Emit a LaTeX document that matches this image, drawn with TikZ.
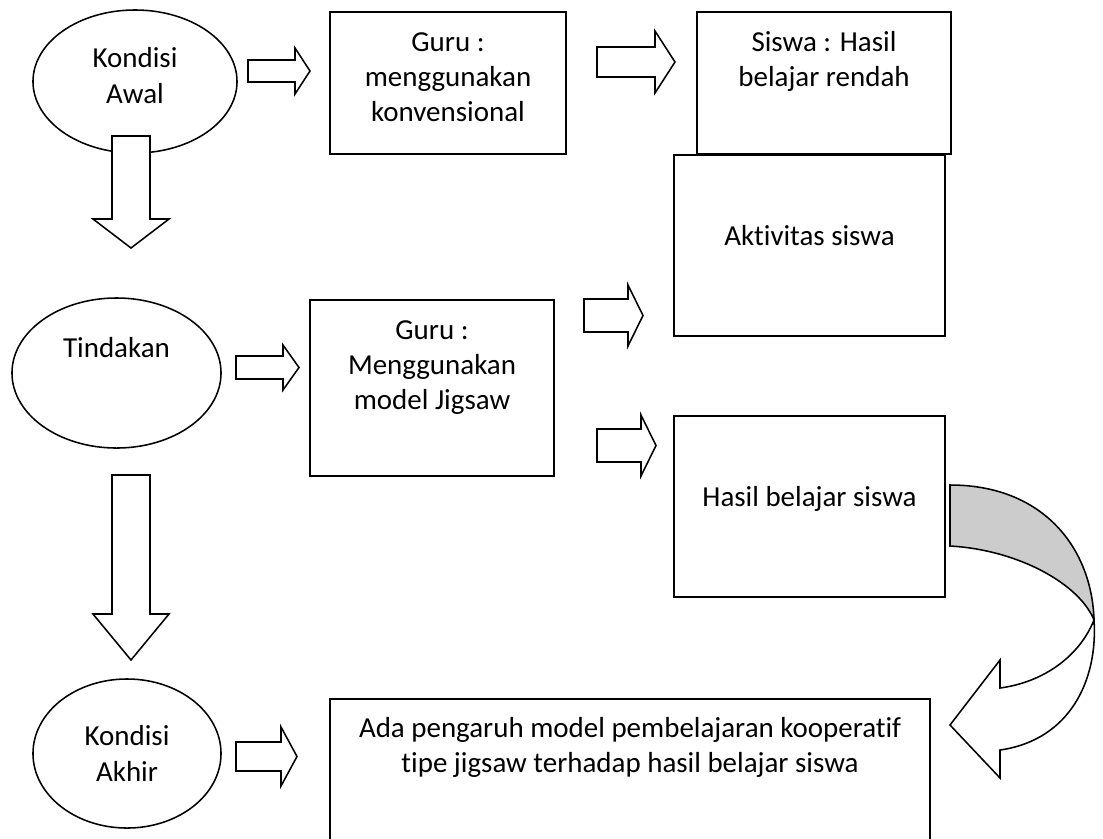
\documentclass[tikz,border=0pt]{standalone}
\usepackage{fontspec}
\setmainfont{Carlito}[Ligatures={NoCommon,NoContextual}]
\usepackage{tikz}
\usetikzlibrary{shapes}
\definecolor{abu}{RGB}{204,204,204}
\newcommand{\hurufisi}{\fontsize{20.6pt}{25.2pt}\selectfont}
%text of a box: width, height, first baseline, text
\newcommand{\isikotak}[4]{\parbox[c][#2][t]{#1}{\centering\rule{0pt}{#3}#4}}
%block arrows: tail, head base, tip, middle, half shaft, half head
\newcommand{\panahkanan}[6]{\draw[panah] (#1,#4-#5) -- (#2,#4-#5) -- (#2,#4-#6) -- (#3,#4) -- (#2,#4+#6) -- (#2,#4+#5) -- (#1,#4+#5) -- cycle;}
\newcommand{\panahbawah}[6]{\draw[panah] (#4-#5,#1) -- (#4-#5,#2) -- (#4-#6,#2) -- (#4,#3) -- (#4+#6,#2) -- (#4+#5,#2) -- (#4+#5,#1) -- cycle;}
\tikzset{
  every node/.style={font=\hurufisi},
  kotak/.style={draw, line width=1.4pt, inner sep=0pt, anchor=north west},
  elips/.style={draw, ellipse, line width=1.1pt, inner sep=0pt, align=center},
  panah/.style={draw, fill=white, line width=1.1pt, line join=miter}
}
\begin{document}
\begin{tikzpicture}[x=0.025cm, y=-0.025cm]
\useasboundingbox (0,0) rectangle (1103,838);
%the conditions
    \node[elips, minimum width=5.1cm, minimum height=3.575cm, text depth=0.3cm] (awal) at (135,81.5) {Kondisi\\Awal};
    \node[elips, minimum width=5.225cm, minimum height=3.75cm, text depth=1.3cm] (tindakan) at (116.5,373) {Tindakan};
    \node[elips, minimum width=4.7cm, minimum height=3.725cm] (akhir) at (127,753.5) {Kondisi\\Akhir};

%the boxes
    \node[kotak] (siswa) at (696,11) {\isikotak{6.35cm}{3.55cm}{0.975cm}{Siswa : Hasil\\belajar rendah}};
    \node[kotak] (aktivitas) at (673,154) {\isikotak{6.775cm}{4.525cm}{2.25cm}{Aktivitas siswa}};
    \node[kotak] (gurukonv) at (329,11) {\isikotak{5.9cm}{3.55cm}{0.975cm}{Guru :\\menggunakan\\konvensional}};
    \node[kotak] (gurujig) at (309,299) {\isikotak{6.1cm}{4.4cm}{0.975cm}{Guru :\\Menggunakan\\model Jigsaw}};
    \node[kotak] (hasil) at (673,415) {\isikotak{6.775cm}{4.525cm}{2.25cm}{Hasil belajar siswa}};
    \node[kotak] (pengaruh) at (329,698) {\isikotak{15cm}{3.75cm}{0.95cm}{Ada pengaruh model pembelajaran kooperatif\\tipe jigsaw terhadap hasil belajar siswa}};

%the arrows
    \panahkanan{248}{295}{310}{71}{11}{23}
    \panahkanan{597}{655}{675}{62}{15}{31}
    \panahkanan{236}{283}{299}{367.5}{11.5}{22.5}
    \panahkanan{584}{628}{643}{315.5}{16.5}{30.5}
    \panahkanan{597}{641}{656}{445.5}{16.5}{30.5}
    \panahkanan{236}{281}{297}{756.5}{14.5}{29.5}
    \panahbawah{136}{219}{248}{131}{19}{38}
    \panahbawah{475}{614}{660}{131}{19}{38}

%the curved arrow
    \draw[panah, fill=abu] (950,485) .. controls (1045,485) and (1092,550) .. (1094,620)
       .. controls (1080,585) and (1020,550) .. (950,546) -- cycle;
    \draw[panah] (1094,620) .. controls (1098,680) and (1070,740) .. (1000,750)
       -- (1000,778) -- (950,725) -- (1000,660) -- (1000,688)
       .. controls (1045,682) and (1080,655) .. (1094,620) -- cycle;
\end{tikzpicture}
\end{document}
